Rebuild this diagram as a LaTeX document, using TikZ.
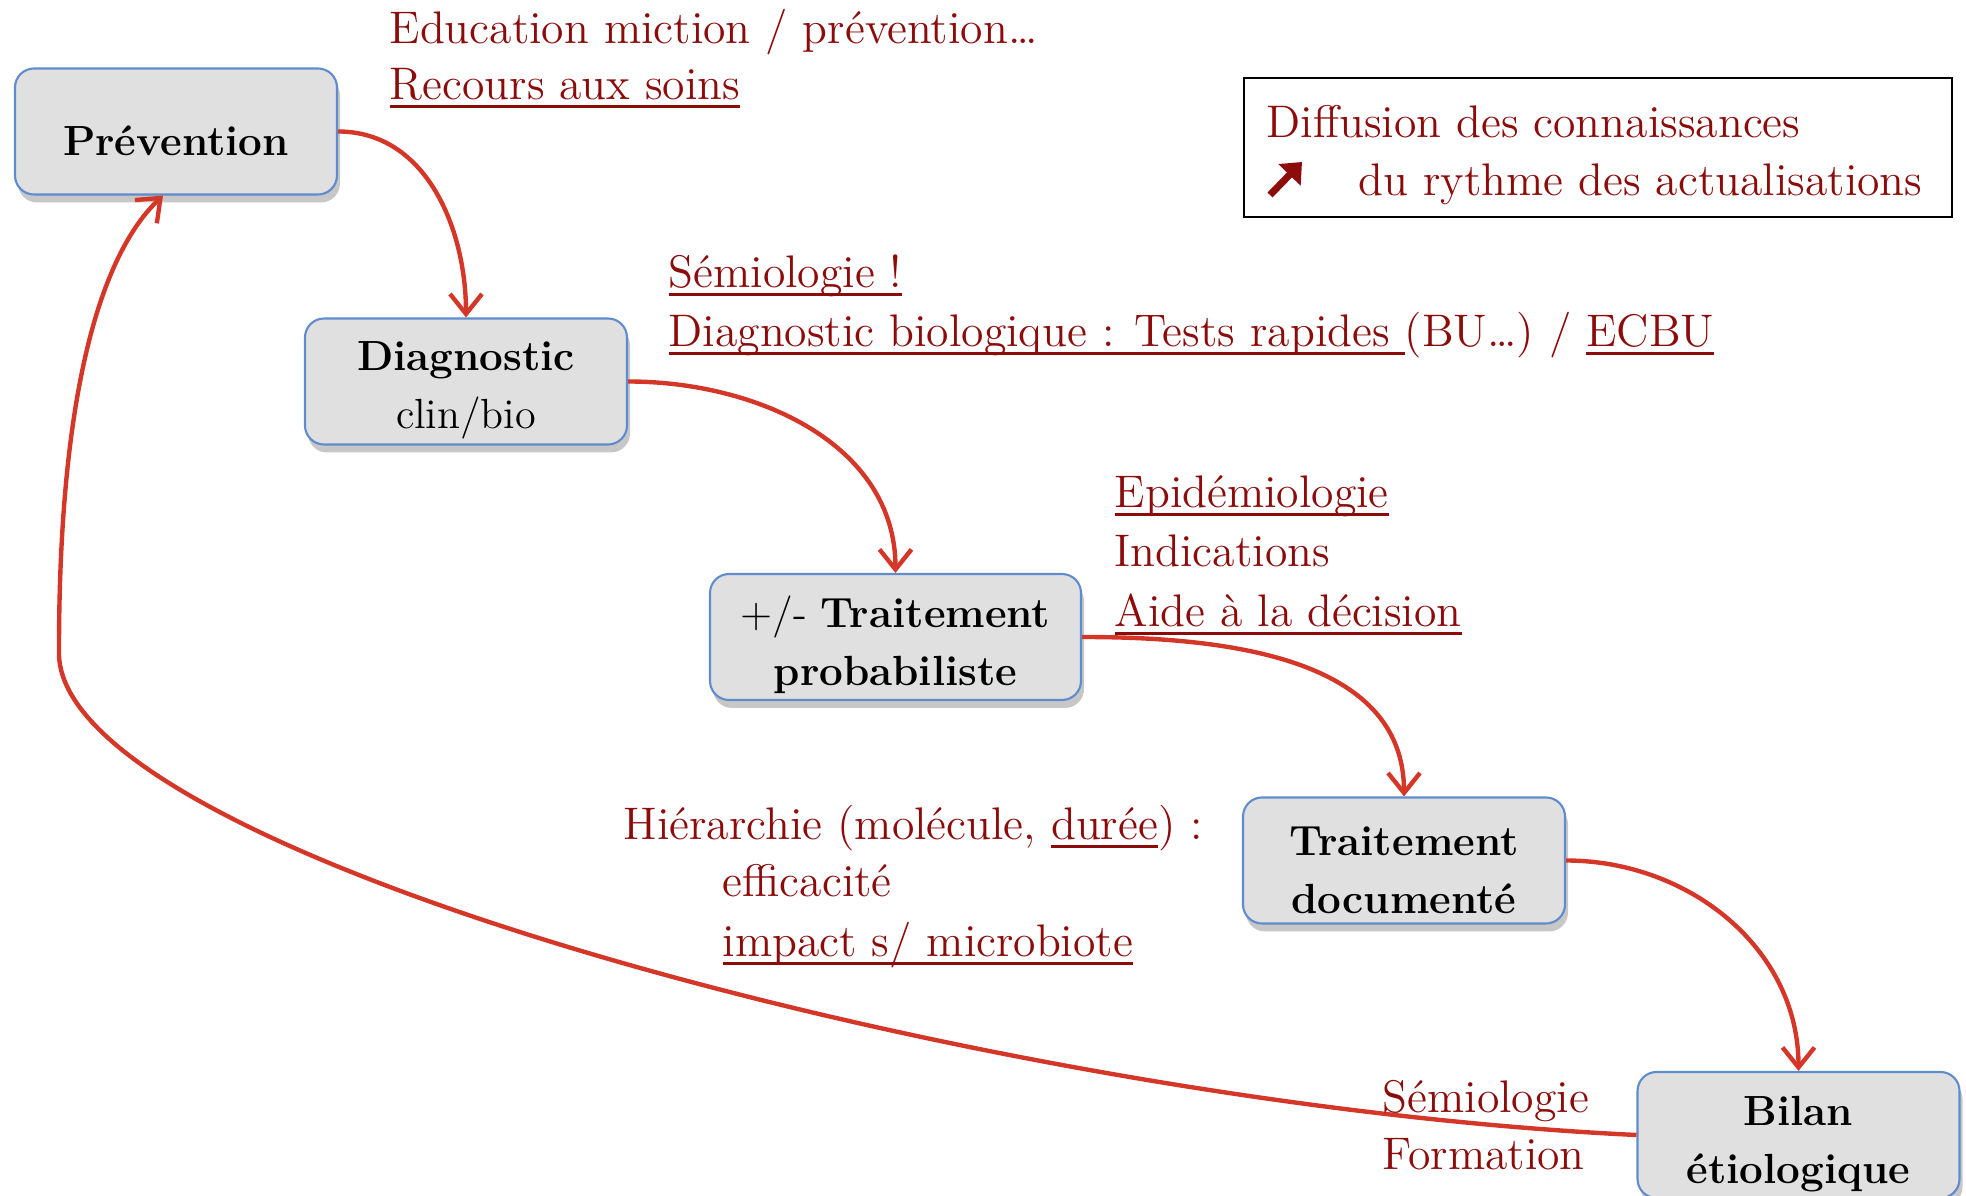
\documentclass[tikz,border=0pt]{standalone}
\usepackage{fontspec}
\usepackage{tikz}
\usetikzlibrary{arrows.meta}
\usetikzlibrary{shadows}

\definecolor{txtred}{RGB}{140,12,12}
\definecolor{flechered}{RGB}{212,55,40}
\definecolor{boxgray}{RGB}{224,224,224}
\definecolor{boxblue}{RGB}{95,140,205}

\newcommand{\souligne}[1]{\setbox0=\hbox{#1}\rlap{\rule[-2.3pt]{\wd0}{0.85pt}}\box0}

\tikzset{
  etape/.style={draw=boxblue, fill=boxgray, line width=0.6pt, rounded corners=0.19cm,
    minimum width=3.22cm, minimum height=1.26cm, inner ysep=0pt, align=center,
    font=\fontsize{12}{16.5}\selectfont, execute at begin node={\rule{0pt}{#1}},
    drop shadow={shadow xshift=0.3mm, shadow yshift=-0.8mm, fill=black, opacity=0.22}},
  etape/.default=30pt,
  note/.style={anchor=base west, inner sep=0pt, text=txtred, font=\fontsize{13}{16.7}\selectfont},
  fleche/.style={draw=flechered, line width=1.25pt, -{Straight Barb[length=2mm,width=3.2mm]}}
}

\begin{document}
\begin{tikzpicture}
\useasboundingbox (0,0) rectangle (19.66,11.95);

\node (prev) at (1.76,10.635) [etape=13.5pt] {\textbf{Prévention}};
\node (diag) at (4.66,8.135) [etape] {\textbf{Diagnostic}\\clin/bio};
\node (tprob) at (8.955,5.58) [etape, minimum width=3.71cm] {+/- \textbf{Traitement}\\\textbf{probabiliste}};
\node (tdoc) at (14.04,3.345) [etape] {\textbf{Traitement}\\\textbf{documenté}};
\node (bilan) at (17.985,0.60) [etape] {\textbf{Bilan}\\\textbf{étiologique}};

\draw[fleche] (prev.east) to[out=0,in=90] (diag.north);
\draw[fleche] (diag.east) to[out=0,in=90] (tprob.north);
\draw[fleche] (tprob.east) to[out=0,in=90] (tdoc.north);
\draw[fleche] (tdoc.east) to[out=0,in=90] (bilan.north);
\coordinate (tour) at (0.59,5.45);
\draw[fleche] (bilan.west) .. controls (10,0.9) and (0.5,3.4) .. (tour)
  .. controls (0.59,8.0) and (1.0,9.4) .. ([xshift=-1.3mm]prev.south);

\node (educ) at (3.89,11.51) [note] {Education miction / prévention…};
\node (recours) at (3.89,10.95) [note] {\souligne{Recours aux soins}};
\node (semio) at (6.68,9.07) [note] {\souligne{Sémiologie !}};
\node (diagbio) at (6.68,8.48) [note] {\souligne{Diagnostic biologique : Tests rapides }(BU…) / \souligne{ECBU}};
\node (epid) at (11.14,6.87) [note] {\souligne{Epidémiologie}};
\node (indic) at (11.14,6.28) [note] {Indications};
\node (aide) at (11.14,5.68) [note] {\souligne{Aide à la décision}};
\node (hier) at (6.23,3.55) [note] {Hiérarchie (molécule, \souligne{durée}) :};
\node (effic) at (7.22,2.98) [note] {efficacité};
\node (impact) at (7.22,2.38) [note] {\souligne{impact s/ microbiote}};
\node (semiob) at (13.82,0.83) [note] {Sémiologie};
\node (form) at (13.82,0.26) [note] {Formation};

\draw[line width=0.6pt] (12.44,9.78) rectangle (19.52,11.17);
\node (diffu) at (12.66,10.57) [note] {Diffusion des connaissances};
\node (rythme) at (13.58,9.99) [note] {du rythme des actualisations};
\coordinate (hausse) at (12.70,10.00);
\draw[txtred, line width=2pt, -{Triangle[length=1.8mm,width=3mm]}] (hausse) -- ++(0.32,0.33);

\end{tikzpicture}
\end{document}
